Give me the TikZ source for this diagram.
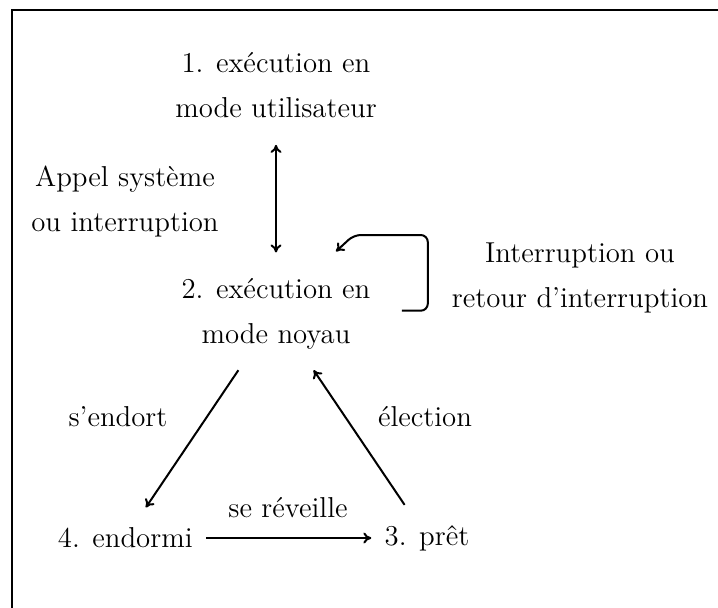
\documentclass[tikz,border=0pt]{standalone}
\usepackage{fontspec}
\usetikzlibrary{calc,arrows.meta}
\begin{document}
\begin{tikzpicture}[x=0.5pt,y=-0.5pt,
  >={To[length=4pt,width=5.5pt]},
  txt/.style={font=\fontsize{14.4}{22.5}\selectfont, align=center, inner sep=0pt},
  state/.style={txt, inner xsep=6.5pt, inner ysep=10pt},
  arr/.style={->, line width=1pt},
  frame/.style={line width=1.2pt}]
\useasboundingbox (0,0) rectangle (718,607);
\draw[frame] (12,700) -- (12,10) -- (800,10);

\node[state] (n1) at (276,85.2) {1. exécution en\\mode utilisateur};
\node[state] (n2) at (276,314.3) {2. exécution en\\mode noyau};
\node[state] (n4) at (125.3,538) {4. endormi};
\node[state] (n3) at (427,538) {3. prêt};

\node[txt] (lappel) at (125,202) {Appel système\\ou interruption};
\node[txt] (lint) at (580,278) {Interruption ou\\retour d’interruption};
\node[txt] (lend) at (118,417) {s’endort};
\node[txt] (lel) at (425,417) {élection};
\node[txt] (lrev) at (288,508) {se réveille};

\draw[arr, <->, shorten <=3.3pt, shorten >=3pt] (n1) -- (n2);
\draw[arr] (n2) -- (n4);
\draw[arr] (n3) -- (n2);
\draw[arr] (n4) -- (n3);
\draw[arr, rounded corners=3.5pt] ($(n2.east)+(18,-3.6)$) -- ++(26,0) -- ++(0,-75.7) -- ++(-74,0) -- ($(n2.north)+(60,-7)$);
\end{tikzpicture}
\end{document}
